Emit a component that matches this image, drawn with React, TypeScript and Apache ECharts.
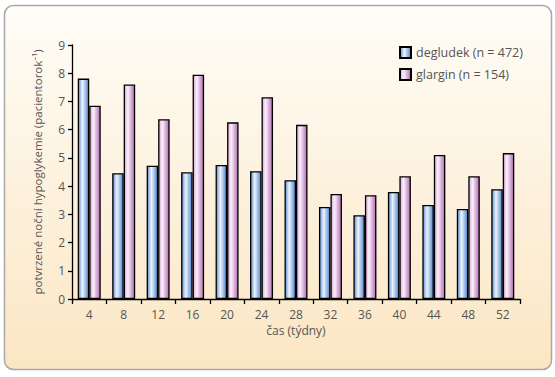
import React, { useEffect, useRef } from "react";
import * as echarts from "echarts";

const categories = ["4", "8", "12", "16", "20", "24", "28", "32", "36", "40", "44", "48", "52"];
const degludek = [7.81, 4.46, 4.72, 4.49, 4.75, 4.53, 4.21, 3.26, 2.97, 3.79, 3.33, 3.19, 3.89];
const glargin = [6.85, 7.6, 6.37, 7.95, 6.26, 7.15, 6.17, 3.72, 3.68, 4.35, 5.1, 4.35, 5.17];
const seriesNames = ["degludek (n = 472)", "glargin (n = 154)"];
const xTitle = "čas (týdny)";
const yTitle = "potvrzené noční hypoglykemie (pacientorok⁻¹)";

const FONT = "'Open Sans', 'Noto Sans', sans-serif";

const blueGrad = new echarts.graphic.LinearGradient(0, 0, 1, 0, [
  { offset: 0, color: "#5a8fd6" },
  { offset: 0.4, color: "#eef4fc" },
  { offset: 1, color: "#4f86cf" },
]);
const pinkGrad = new echarts.graphic.LinearGradient(0, 0, 1, 0, [
  { offset: 0, color: "#d9a8d8" },
  { offset: 0.35, color: "#fbf0fb" },
  { offset: 1, color: "#b26cb2" },
]);

export default function App() {
  const ref = useRef<HTMLDivElement>(null);
  useEffect(() => {
    document.body.style.margin = "0";
    const chart = echarts.init(ref.current!, null, { renderer: "svg" });
    chart.setOption({
      animation: false,
      textStyle: { fontFamily: FONT },
      graphic: [
        {
          type: "rect",
          z: -10,
          shape: { x: 4.5, y: 5.5, width: 547, height: 364, r: 9 },
          style: {
            fill: new echarts.graphic.LinearGradient(0, 0, 0, 1, [
              { offset: 0, color: "#fffdf8" },
              { offset: 1, color: "#fbe6c3" },
            ]),
            stroke: "#a8a8a8",
            lineWidth: 1.5,
          },
        },
      ],
      legend: {
        orient: "vertical",
        left: 394,
        top: 41,
        itemWidth: 11,
        itemHeight: 11,
        itemGap: 9,
        icon: "rect",
        textStyle: { color: "#555", fontSize: 12.5, fontFamily: FONT },
        data: seriesNames,
      },
      grid: { left: 72, right: 35, top: 45, bottom: 78, containLabel: false },
      xAxis: {
        type: "category",
        data: categories,
        name: xTitle,
        nameLocation: "middle",
        nameGap: 25,
        nameTextStyle: { color: "#555", fontSize: 12, fontFamily: FONT },
        axisLine: { lineStyle: { color: "#000", width: 1.3 } },
        axisTick: { show: true, length: 5, lineStyle: { color: "#000", width: 1.3 } },
        axisLabel: { color: "#555", fontSize: 12, margin: 9, fontFamily: FONT },
      },
      yAxis: {
        type: "value",
        min: 0,
        max: 9,
        interval: 1,
        name: yTitle,
        nameLocation: "middle",
        nameGap: 29,
        nameTextStyle: { color: "#555", fontSize: 11.5, fontFamily: FONT },
        splitLine: { show: false },
        axisLine: { show: true, lineStyle: { color: "#000", width: 1.3 } },
        axisTick: { show: true, length: 4, lineStyle: { color: "#000", width: 1.3 } },
        axisLabel: { color: "#555", fontSize: 12, margin: 7, fontFamily: FONT },
      },
      series: [
        {
          name: seriesNames[0],
          type: "bar",
          data: degludek,
          barWidth: 11.5,
          barGap: "0%",
          itemStyle: { color: blueGrad, borderColor: "#000", borderWidth: 1.3 },
        },
        {
          name: seriesNames[1],
          type: "bar",
          data: glargin,
          barWidth: 11.5,
          barGap: "0%",
          itemStyle: { color: pinkGrad, borderColor: "#000", borderWidth: 1.3 },
        },
      ],
    });
    return () => chart.dispose();
  }, []);
  return (
    <div
      ref={ref}
      style={{ position: "absolute", left: 0, top: 0, width: 555, height: 377 }}
    />
  );
}
